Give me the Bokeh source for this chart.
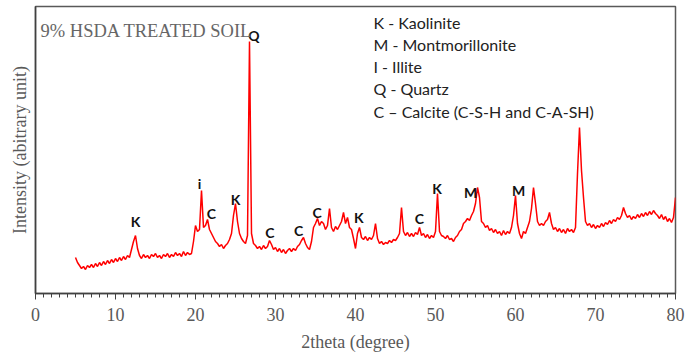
from bokeh.plotting import figure
from bokeh.models import ColumnDataSource, Label, FixedTicker, Range1d
from bokeh.core.properties import value
from bokeh.embed import file_html
from bokeh.resources import INLINE

# XRD scan: start angle, step (deg 2theta) and intensities
theta_start = 5.0
theta_step = 0.25
intensity = [
    36, 31, 28, 25,   27, 24, 28, 26,   29, 26, 30, 27,   31, 28, 32, 29,   # 5-9
    33, 30, 34, 31,   35, 32, 36, 33,   37, 34, 38, 36,   44, 52, 58, 45,   # 9-13
    38, 35, 39, 36,   38, 35, 39, 37,   40, 36, 38, 35,   39, 37, 40, 36,   # 13-17
    39, 37, 41, 38,   40, 37, 42, 38,   41, 39, 40, 52,                     # 17-20
    68, 62, 64, 103,  66, 68, 74, 64,   60, 56, 52, 50,   47, 49, 45, 48,   # 20-24
    50, 54, 60, 78,   90, 72, 60, 55,   52, 50, 58, 252,  60, 50, 48, 45,   # 24-28
    47, 44, 48, 45,   47, 53, 49, 44,   46, 42, 45, 41,   44, 40, 43, 45,   # 28-32
    42, 45, 43, 47,   49, 53, 56, 50,   46, 44, 52, 66,   70, 75, 68, 72,   # 32-36
    70, 64, 68, 85,   66, 62, 67, 64,   68, 72, 81, 70,   76, 66, 64, 55,   # 36-40
    45, 60, 66, 56,   54, 57, 53, 56,   54, 58, 70, 55,   50, 52, 49, 51,   # 40-44
    50, 53, 51, 54,   53, 56, 60, 86,   62, 58, 61, 57,   60, 57, 61, 59,   # 44-48
    66, 58, 60, 56,   59, 55, 58, 56,   62, 100, 62, 58,  57, 55, 58, 54,   # 48-52
    55, 52, 56, 58,   62, 64, 70, 72,   75, 73, 78, 82,   90, 106, 96, 72,  # 52-56
    70, 66, 68, 63,   65, 61, 64, 60,   62, 58, 63, 59,   62, 60, 66, 78,   # 56-60
    98, 70, 60, 55,   62, 60, 66, 72,   85, 106, 90, 72,  68, 70, 68, 72,   # 60-64
    74, 81, 70, 64,   66, 62, 65, 61,   64, 60, 65, 62,   64, 61, 66, 120,  # 64-68
    166, 123, 96, 72, 68, 70, 66, 69,   65, 68, 66, 70,   67, 71, 69, 73,   # 68-72
    70, 74, 72, 76,   74, 78, 86, 80,   76, 78, 74, 77,   75, 79, 76, 80,   # 72-76
    77, 81, 78, 82,   79, 83, 80, 78,   75, 79, 74, 77,   72, 75, 71, 76,   # 76-80
    96,
]
two_theta = [theta_start + i * theta_step for i in range(len(intensity))]

# Peak annotations
ann_text = ["K", "i", "C", "K", "Q", "C", "C", "C", "K", "C", "K", "M", "M"]
ann_x = [12.5, 20.5, 22.0, 25.0, 27.3, 29.3, 32.9, 35.2, 40.4, 48.0, 50.2, 54.4, 60.4]
ann_y = [72, 110, 80, 94, 258, 61, 63, 81, 76, 75, 105, 101, 103]

legend_lines = ["K - Kaolinite", "M - Montmorillonite", "I - Illite", "Q - Quartz",
                "C \u2013 Calcite (C-S-H and C-A-SH)"]
title_text = "9% HSDA TREATED SOIL"
x_ticks = [0, 10, 20, 30, 40, 50, 60, 70, 80]

p = figure(width=700, height=358, output_backend="svg", toolbar_location=None,
           x_range=Range1d(0, 80), y_range=Range1d(0, 287),
           min_border_left=35, min_border_right=25, min_border_top=6, min_border_bottom=65)
p.background_fill_color = "white"
p.border_fill_color = "white"
p.grid.visible = False
p.outline_line_color = "#595959"
p.outline_line_width = 1.5

p.line(two_theta, intensity, line_color="#ff0000", line_width=1.5)

src = ColumnDataSource(dict(x=ann_x, y=ann_y, t=ann_text))
p.text(x="x", y="y", text="t", source=src, text_font=value("Lato"), text_font_style="bold",
       text_font_size="14px", text_align="center", text_baseline="middle", text_color="#111111")

# x axis
xa = p.xaxis[0]
xa.ticker = FixedTicker(ticks=x_ticks, minor_ticks=list(range(0, 81)))
xa.axis_label = "2theta (degree)"
xa.axis_label_text_font = "Liberation Serif"
xa.axis_label_text_font_style = "normal"
xa.axis_label_text_font_size = "18px"
xa.axis_label_text_color = "#595959"
xa.axis_label_standoff = 8
xa.major_label_text_font = "Liberation Serif"
xa.major_label_text_font_size = "18px"
xa.major_label_text_color = "#595959"
xa.major_label_standoff = 8
xa.major_tick_in = 0
xa.major_tick_out = 6
xa.minor_tick_in = 0
xa.minor_tick_out = 4
xa.axis_line_color = "#404040"
xa.axis_line_width = 1.5
xa.major_tick_line_color = "#404040"
xa.minor_tick_line_color = "#404040"

# y axis
ya = p.yaxis[0]
ya.ticker = FixedTicker(ticks=[])
ya.major_tick_line_color = None
ya.minor_tick_line_color = None
ya.major_label_text_font_size = "0px"
ya.major_label_standoff = 0
ya.axis_label = "Intensity (abitrary unit)"
ya.axis_label_text_font = "Liberation Serif"
ya.axis_label_text_font_style = "normal"
ya.axis_label_text_font_size = "18px"
ya.axis_label_text_color = "#595959"
ya.axis_label_standoff = 6
ya.axis_line_color = "#404040"
ya.axis_line_width = 1.5

# screen units are measured up from the bottom of the plot frame (frame height 287)
p.add_layout(Label(x=5, y=273, x_units="screen", y_units="screen", text=title_text,
                   text_font="Liberation Serif", text_font_size="18.5px", text_color="#666666",
                   text_baseline="top"))

for i, line in enumerate(legend_lines):
    p.add_layout(Label(x=338, y=281 - 22.3 * i, x_units="screen", y_units="screen", text=line,
                       text_font="Lato", text_font_size="16px", text_color="#222222",
                       text_baseline="top"))

open("out.html", "w").write(file_html(p, INLINE))
